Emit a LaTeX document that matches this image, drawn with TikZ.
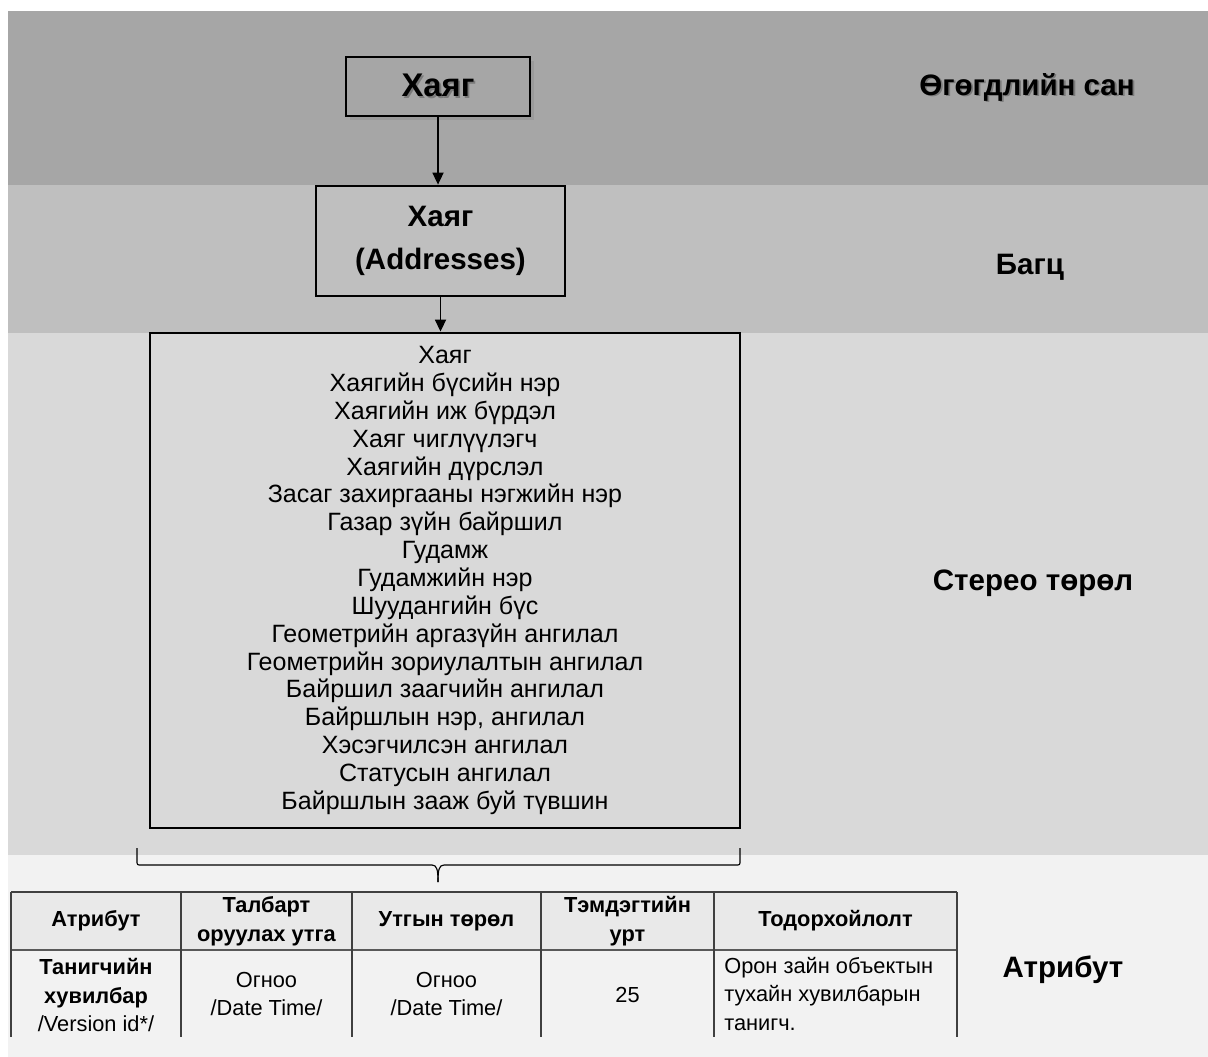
\documentclass[tikz,border=0pt]{standalone}
\usepackage{fontspec}
\setmainfont{Liberation Sans}
\usetikzlibrary{
	arrows.meta,
	positioning,
	shadows,
	calc,
}
\definecolor{BandDark}{HTML}{A6A6A6}
\definecolor{BandMid}{HTML}{BFBFBF}
\definecolor{BandLight}{HTML}{D9D9D9}
\definecolor{BandPale}{HTML}{F2F2F2}
\definecolor{HeadGray}{HTML}{E9E9E9}
\definecolor{ShadeText}{HTML}{7A7A7A}
% text with a soft shadow
\newcommand{\shadetext}[1]{\makebox[0pt][l]{\raisebox{-1.3pt}{\hspace{1.3pt}\textcolor{ShadeText}{#1}}}#1}

\begin{document}
\begin{tikzpicture}[
				x=0.025cm,y=-0.025cm,
				every node/.style={align=center,font=\fontsize{17.8}{19.8}\selectfont},
				box/.style={draw=black,line width=2pt,rectangle,inner sep=0pt},
				layer/.style={font=\bfseries\fontsize{21}{25}\selectfont},
				cell/.style={inner sep=0pt,font=\fontsize{15.5}{20.3}\selectfont},
				head/.style={inner sep=0pt,font=\bfseries\fontsize{15.5}{20.3}\selectfont},
				link/.style={-{Triangle[length=0.3cm,width=0.28cm]},line width=0.8pt},
				rule/.style={draw=black!75,line width=1pt},
			]
			\useasboundingbox (0,0) rectangle (1208,1057);

			% bands
			\fill[BandDark] (8,11) rectangle (1208,185);
			\fill[BandMid] (8,185) rectangle (1208,333);
			\fill[BandLight] (8,333) rectangle (1208,855);
			\fill[BandPale] (8,855) rectangle (1208,1057);

			\node (hayag) [box,fill=BandDark,minimum width=4.6cm,minimum height=1.475cm,
				drop shadow={opacity=0.3,shadow xshift=0.9mm,shadow yshift=-0.9mm},
				font=\bfseries\fontsize{23.3}{27}\selectfont] at (438,86.5) {\shadetext{Хаяг}};
			\node (bagts) [box,fill=BandMid,minimum width=6.225cm,minimum height=2.75cm,
				font=\bfseries\fontsize{21}{30.6}\selectfont] at (440.5,241) {Хаяг\\(Addresses)};
			\node (stereo) [box,fill=BandLight,minimum width=14.75cm,minimum height=12.375cm] at (445,580.5)
				{Хаяг\\Хаягийн бүсийн нэр\\Хаягийн иж бүрдэл\\Хаяг чиглүүлэгч\\Хаягийн дүрслэл\\
				Засаг захиргааны нэгжийн нэр\\Газар зүйн байршил\\Гудамж\\Гудамжийн нэр\\
				Шуудангийн бүс\\Геометрийн аргазүйн ангилал\\Геометрийн зориулалтын ангилал\\
				Байршил заагчийн ангилал\\Байршлын нэр, ангилал\\Хэсэгчилсэн ангилал\\
				Статусын ангилал\\Байршлын зааж буй түвшин};

			\draw[link] (hayag.south) -- (hayag.south |- bagts.north);
			\draw[link] (bagts.south) -- (bagts.south |- stereo.north);

			% layer names
			\node (db) [layer] at (1027,88) {\shadetext{Өгөгдлийн сан}};
			\node (pkg) [layer] at (1030,267) {Багц};
			\node (stype) [layer] at (1033,583) {Стерео төрөл};
			\node (attr) [layer] at (1063,970) {Атрибут};

			% brace
			\coordinate (braceL) at (137,848);
			\coordinate (braceR) at (740,848);
			\coordinate (braceTip) at (438,882);
			\draw[line width=0.8pt]
				(braceL) -- ($(braceL)+(0,13)$) .. controls ($(braceL)+(0,17)$) .. ($(braceL)+(5,17)$)
				-- ($(braceTip)+(-6,-17)$) .. controls ($(braceTip)+(-1,-17)$) and ($(braceTip)+(0,-12)$) .. (braceTip);
			\draw[line width=0.8pt]
				(braceR) -- ($(braceR)+(0,13)$) .. controls ($(braceR)+(0,17)$) .. ($(braceR)+(-5,17)$)
				-- ($(braceTip)+(6,-17)$) .. controls ($(braceTip)+(1,-17)$) and ($(braceTip)+(0,-12)$) .. (braceTip);

			% table
			\fill[HeadGray] (11,892) rectangle (957,950);
			\draw[rule] (11,892) -- (957,892);
			\draw[rule,line width=1.8pt,draw=black!65] (11,950) -- (957,950);
			\foreach \x in {11,181,352,541,714,957}
				\draw[rule] (\x,892) -- (\x,1037);

			\node (h1) [head] at (96,921) {Атрибут};
			\node (h2) [head] at (266.5,921) {Талбарт\\оруулах утга};
			\node (h3) [head] at (446.5,921) {Утгын төрөл};
			\node (h4) [head] at (627.5,921) {Тэмдэгтийн\\урт};
			\node (h5) [head] at (835.5,921) {Тодорхойлолт};

			\node (b1) [cell] at (96,995) {\textbf{Танигчийн}\\\textbf{хувилбар}\\/Version id*/};
			\node (b2) [cell] at (266.5,994) {Огноо\\/Date Time/};
			\node (b3) [cell] at (446.5,994) {Огноо\\/Date Time/};
			\node (b4) [cell] at (627.5,995) {25};
			\node (b5) [cell,align=left,anchor=west] at (724,994) {Орон зайн объектын\\тухайн хувилбарын\\танигч.};
		\end{tikzpicture}
\end{document}
